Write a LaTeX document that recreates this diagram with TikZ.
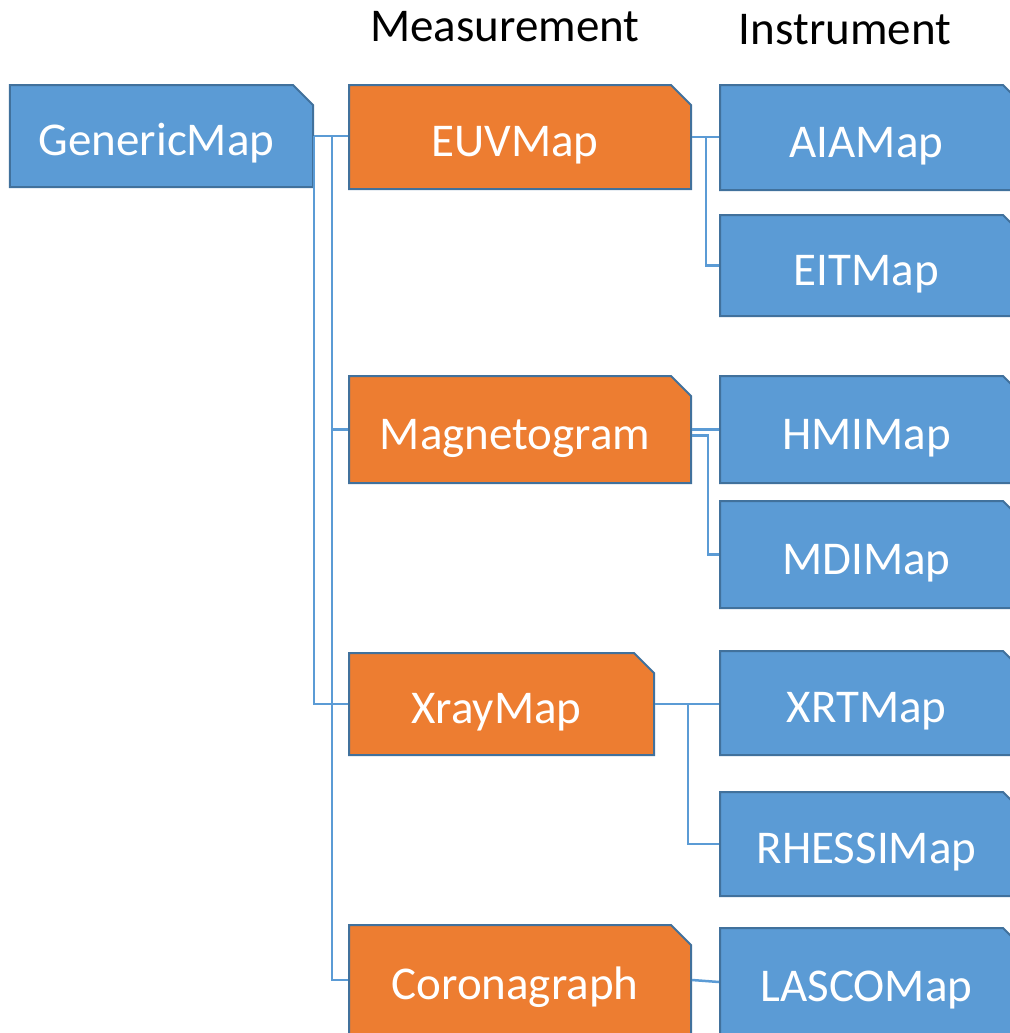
\documentclass[tikz,border=0pt]{standalone}
\usepackage{fontspec}
\setmainfont{Carlito}
\usetikzlibrary{shapes.misc}
\definecolor{mapblue}{HTML}{5B9BD5}
\definecolor{maporange}{HTML}{ED7D31}
\definecolor{edgeblue}{HTML}{41719C}
\tikzset{
  mapbox/.style={chamfered rectangle, chamfered rectangle corners=north east,
    chamfered rectangle xsep=10bp, chamfered rectangle ysep=10bp,
    draw=edgeblue, line width=2bp, inner sep=0pt, text=white,
    text height=39bp, text depth=0pt,
    execute at end node={\hspace*{10bp}},
    font=\fontsize{47bp}{56bp}\selectfont},
  bluebox/.style={mapbox, fill=mapblue},
  orangebox/.style={mapbox, fill=maporange},
  conn/.style={draw=mapblue, line width=2.5bp},
  header/.style={font=\fontsize{47bp}{56bp}\selectfont, text=black, inner sep=0pt}
}
\begin{document}
\begin{tikzpicture}[x=1bp, y=-1bp]
\useasboundingbox (0,0) rectangle (1010,1033);

% column headers
\node[header] (hmeas) at (505,27) {Measurement};
\node[header] (hinst) at (845,30) {Instrument};

% base class
\node[bluebox, minimum width=303bp, minimum height=102bp] (gen) at (161.5,136) {GenericMap};

% measurement classes
\node[orangebox, minimum width=342bp, minimum height=104bp] (euv) at (520,137) {EUVMap};
\node[orangebox, minimum width=342bp, minimum height=107bp] (mag) at (520,429.5) {Magnetogram};
\node[orangebox, minimum width=305bp, minimum height=102bp] (xray) at (501.5,704) {XrayMap};
\node[orangebox, minimum width=342bp, minimum height=110bp] (cor) at (520,980) {Coronagraph};

% instrument classes
\node[bluebox, minimum width=303bp, minimum height=105bp] (aia) at (871.5,137.5) {AIAMap};
\node[bluebox, minimum width=303bp, minimum height=101bp] (eit) at (871.5,265.5) {EITMap};
\node[bluebox, minimum width=303bp, minimum height=107bp] (hmi) at (871.5,429.5) {HMIMap};
\node[bluebox, minimum width=303bp, minimum height=107bp] (mdi) at (871.5,554.5) {MDIMap};
\node[bluebox, minimum width=303bp, minimum height=104bp] (xrt) at (871.5,703) {XRTMap};
\node[bluebox, minimum width=303bp, minimum height=104bp] (rhessi) at (871.5,844) {RHESSIMap};
\node[bluebox, minimum width=303bp, minimum height=108bp] (lasco) at (871.5,982) {LASCOMap};

% GenericMap to measurement classes
\draw[conn] (gen.east) -- (gen.east -| euv.west);
\draw[conn] (gen.east) |- (xray.west);
\draw[conn] ([xshift=18bp]gen.east) |- (mag.west);
\draw[conn] ([xshift=18bp]gen.east) |- (cor.west);

% measurement classes to instrument classes
\draw[conn] (euv.east) -- (euv.east -| aia.west);
\draw[conn] ([xshift=14bp]euv.east) |- (eit.west);
\draw[conn] (mag.east) -- (mag.east -| hmi.west);
\draw[conn] ([yshift=-6bp]mag.east) -- ++(16,0) |- (mdi.west);
\draw[conn] (xray.east) -- (xray.east -| xrt.west);
\draw[conn] ([xshift=33bp]xray.east) |- (rhessi.west);
\draw[conn] (cor.east) -- (lasco.west);
\end{tikzpicture}
\end{document}
